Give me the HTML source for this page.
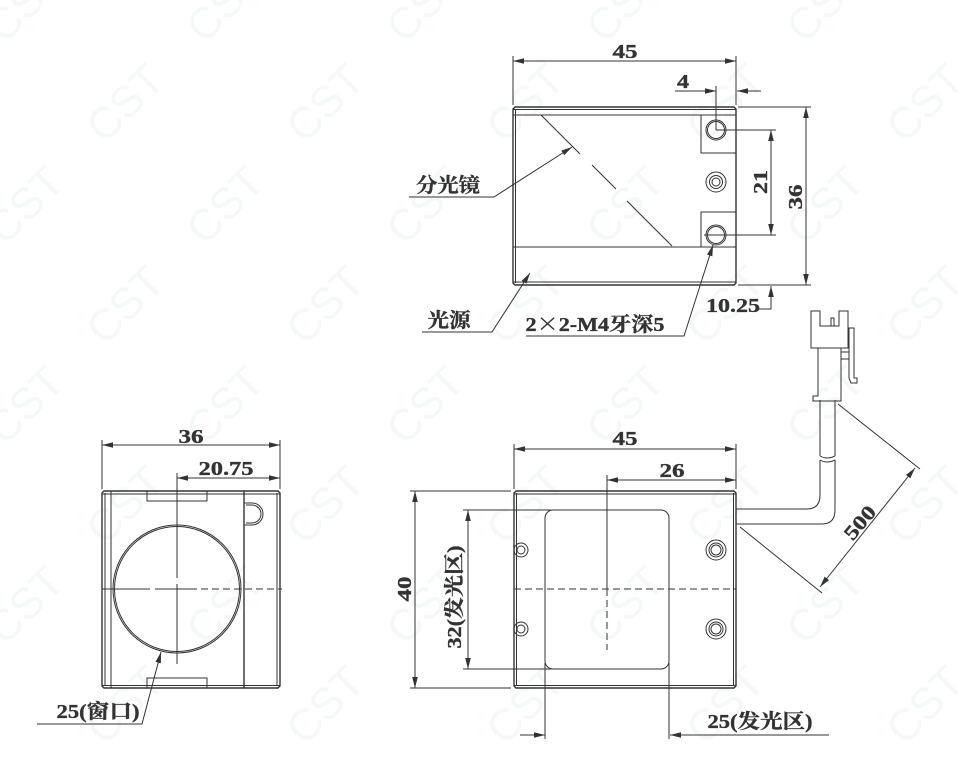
<!DOCTYPE html>
<html><head><meta charset="utf-8"><style>
html,body{margin:0;padding:0;background:#fff}
svg{display:block}
.w{font:400 44px "Liberation Sans",sans-serif;fill:#f5f8f9}
.t{font-family:"Liberation Serif","Noto Serif CJK SC",serif;font-weight:700;fill:#333;stroke:#333;stroke-width:.35;font-size:20px;text-anchor:middle}
.l{fill:none;stroke:#333;stroke-width:1}
.h{fill:none;stroke:#333;stroke-width:1.4}
.d{fill:none;stroke:#333;stroke-width:1;stroke-dasharray:7 4}
</style></head><body>
<svg xmlns="http://www.w3.org/2000/svg" width="958" height="766" viewBox="0 0 958 766">
<defs>
<marker id="a" markerUnits="userSpaceOnUse" markerWidth="12" markerHeight="8" refX="11" refY="4" orient="auto-start-reverse"><path d="M0 1.2L11 4L0 6.8z" fill="#333"/></marker>
</defs>
<rect width="958" height="766" fill="#fff"/>
<g class="w" text-anchor="middle">
<text transform="translate(125 103) rotate(-45)" y="15">CST</text><text transform="translate(325 103) rotate(-45)" y="15">CST</text><text transform="translate(525 103) rotate(-45)" y="15">CST</text><text transform="translate(725 103) rotate(-45)" y="15">CST</text><text transform="translate(925 103) rotate(-45)" y="15">CST</text>
<text transform="translate(25 3) rotate(-45)" y="15">CST</text><text transform="translate(225 3) rotate(-45)" y="15">CST</text><text transform="translate(425 3) rotate(-45)" y="15">CST</text><text transform="translate(625 3) rotate(-45)" y="15">CST</text><text transform="translate(825 3) rotate(-45)" y="15">CST</text>
<text transform="translate(25 205) rotate(-45)" y="15">CST</text><text transform="translate(225 205) rotate(-45)" y="15">CST</text><text transform="translate(425 205) rotate(-45)" y="15">CST</text><text transform="translate(625 205) rotate(-45)" y="15">CST</text><text transform="translate(825 205) rotate(-45)" y="15">CST</text>
<text transform="translate(125 305) rotate(-45)" y="15">CST</text><text transform="translate(325 305) rotate(-45)" y="15">CST</text><text transform="translate(525 305) rotate(-45)" y="15">CST</text><text transform="translate(725 305) rotate(-45)" y="15">CST</text><text transform="translate(925 305) rotate(-45)" y="15">CST</text>
<text transform="translate(25 405) rotate(-45)" y="15">CST</text><text transform="translate(225 405) rotate(-45)" y="15">CST</text><text transform="translate(425 405) rotate(-45)" y="15">CST</text><text transform="translate(625 405) rotate(-45)" y="15">CST</text><text transform="translate(825 405) rotate(-45)" y="15">CST</text>
<text transform="translate(125 505) rotate(-45)" y="15">CST</text><text transform="translate(325 505) rotate(-45)" y="15">CST</text><text transform="translate(525 505) rotate(-45)" y="15">CST</text><text transform="translate(725 505) rotate(-45)" y="15">CST</text><text transform="translate(925 505) rotate(-45)" y="15">CST</text>
<text transform="translate(25 605) rotate(-45)" y="15">CST</text><text transform="translate(225 605) rotate(-45)" y="15">CST</text><text transform="translate(425 605) rotate(-45)" y="15">CST</text><text transform="translate(625 605) rotate(-45)" y="15">CST</text><text transform="translate(825 605) rotate(-45)" y="15">CST</text>
<text transform="translate(125 705) rotate(-45)" y="15">CST</text><text transform="translate(325 705) rotate(-45)" y="15">CST</text><text transform="translate(525 705) rotate(-45)" y="15">CST</text><text transform="translate(725 705) rotate(-45)" y="15">CST</text><text transform="translate(925 705) rotate(-45)" y="15">CST</text>
</g>

<!-- top view -->
<g class="l">
<path class="h" d="M515 107H734L736 109V283L734 285H515L513 283V109Z"/>
<path d="M513 109.5H736M513 115H736M515.5 109V283M513 247H736M513 282H736"/>
<path d="M701 115V153H736M701 247V212H736"/>
<path d="M541 115L580 154M592 165L616 189M627 201L672 246"/>
<circle cx="716" cy="130" r="10"/><circle cx="716" cy="130" r="8.5"/>
<circle cx="716" cy="182" r="10"/><circle cx="716" cy="182" r="6.5"/><circle cx="716" cy="182" r="4"/>
<circle cx="716" cy="235" r="10"/><circle cx="716" cy="235" r="8.5"/>
<path d="M513 56V105M736 56V105"/>
<path d="M513 61H736" marker-start="url(#a)" marker-end="url(#a)"/>
<path d="M675 91H716" marker-end="url(#a)"/><path d="M761 91H737" marker-end="url(#a)"/>
<path d="M716 86V130M716 130H776M704 235H776"/>
<path d="M771 130V235" marker-start="url(#a)" marker-end="url(#a)"/>
<path d="M738 107H811M738 285H811"/>
<path d="M806 107V285" marker-start="url(#a)" marker-end="url(#a)"/>
<path d="M758 309H771V286" marker-end="url(#a)"/>
<path d="M409 197H494L572 147" marker-end="url(#a)"/>
<path d="M422 332H492L530 273" marker-end="url(#a)"/>
<path d="M526 336H684L713 245" marker-end="url(#a)"/>
</g>
<text class="t" x="625" y="58" textLength="25" lengthAdjust="spacingAndGlyphs">45</text>
<text class="t" x="683" y="88" textLength="12" lengthAdjust="spacingAndGlyphs">4</text>
<text class="t" transform="translate(767 182) rotate(-90)" textLength="24" lengthAdjust="spacingAndGlyphs">21</text>
<text class="t" transform="translate(802 197) rotate(-90)" textLength="25" lengthAdjust="spacingAndGlyphs">36</text>
<text class="t" x="733" y="312" textLength="54" lengthAdjust="spacingAndGlyphs">10.25</text>
<text class="t" x="448" y="192" textLength="64" lengthAdjust="spacingAndGlyphs">分光镜</text>
<text class="t" x="449" y="327" textLength="43" lengthAdjust="spacingAndGlyphs">光源</text>
<text class="t" x="595" y="331" textLength="139" lengthAdjust="spacingAndGlyphs">2<tspan font-family="Noto Serif CJK SC">×</tspan>2-M4牙深5</text>

<!-- bottom view -->
<g class="l">
<path class="h" d="M516 491H734L736 493V686L734 688H516L514 686V493Z"/>
<path d="M514 494H736M516.5 493V686M733.5 493V686M514 685.5H736"/>
<rect x="545" y="510" width="124" height="159" rx="8"/>
<circle cx="521" cy="550" r="7"/><circle cx="521" cy="550" r="4"/>
<circle cx="521" cy="629" r="7"/><circle cx="521" cy="629" r="4"/>
<circle cx="716" cy="550" r="10"/><circle cx="716" cy="550" r="7"/><circle cx="716" cy="550" r="5"/>
<circle cx="716" cy="629" r="10"/><circle cx="716" cy="629" r="7"/><circle cx="716" cy="629" r="5"/>
<path d="M514 444V489M736 444V489"/>
<path d="M514 449H736" marker-start="url(#a)" marker-end="url(#a)"/>
<path d="M607 480H736" marker-start="url(#a)" marker-end="url(#a)"/>
<path d="M607 475V589"/>
<path class="d" d="M607 589V650M514 589H736"/>
<path d="M410 491H511M410 688H511"/>
<path d="M415 491V688" marker-start="url(#a)" marker-end="url(#a)"/>
<path d="M463 510H551M463 669H551"/>
<path d="M468 510V669" marker-start="url(#a)" marker-end="url(#a)"/>
<path d="M545 663V739M669 663V739"/>
<path d="M520 735H545" marker-end="url(#a)"/>
<path d="M829 735H670" marker-end="url(#a)"/>
<path d="M736 509H807Q820 509 820 495V460"/>
<path d="M736 524H822Q835 524 835 510V460"/>
<path d="M820 460Q827 464 835 460M820 456Q827 460 835 456"/>
<path d="M820 400V456M835 400V456"/>
<path d="M811 311H820V326H839V311H848V348H811Z"/>
<path d="M831 326V318H834V326"/>
<path d="M818 348V396H813V401H841V348"/>
<path d="M841 352H849M841 359H849"/>
<path d="M849 328H854V378H857V383H851L849 378Z"/>
<path d="M838 404L920 469M740 527L822 593"/>
<path d="M915 468L820 587" marker-start="url(#a)" marker-end="url(#a)"/>
</g>
<text class="t" x="625" y="445" textLength="25" lengthAdjust="spacingAndGlyphs">45</text>
<text class="t" x="672" y="477" textLength="25" lengthAdjust="spacingAndGlyphs">26</text>
<text class="t" transform="translate(411 589) rotate(-90)" textLength="25" lengthAdjust="spacingAndGlyphs">40</text>
<text class="t" transform="translate(461 597) rotate(-90)" textLength="103" lengthAdjust="spacingAndGlyphs">32(发光区)</text>
<text class="t" x="760" y="728" textLength="105" lengthAdjust="spacingAndGlyphs">25(发光区)</text>
<text class="t" transform="translate(865 527) rotate(-50)" textLength="38" lengthAdjust="spacingAndGlyphs">500</text>

<!-- left view -->
<g class="l">
<path class="h" d="M104 491H278L280 493V686L278 688H104L102 686V493Z"/>
<path d="M102 494H280M102 685.5H280M105 493V686M111 491V688M277 493V686"/>
<path class="h" d="M244 491V688"/>
<path d="M147 491V501H207V491M147 688V678H207V688"/>
<circle cx="177" cy="589" r="64"/><circle cx="177" cy="589" r="62.5"/>
<path d="M244 503H252A11 11 0 0 1 252 525H244"/>
<path d="M246 505H252A9 9 0 0 1 252 523H246"/>
<path d="M177 473V578M177 584V664"/>
<path d="M102 589H150M155 589H190" />
<path class="d" d="M190 589H282"/>
<path d="M102 440V489M280 440V489"/>
<path d="M102 445H280" marker-start="url(#a)" marker-end="url(#a)"/>
<path d="M177 478H280" marker-start="url(#a)" marker-end="url(#a)"/>
<path d="M37 724H142L161 652" marker-end="url(#a)"/>
</g>
<text class="t" x="191" y="443" textLength="25" lengthAdjust="spacingAndGlyphs">36</text>
<text class="t" x="226" y="475" textLength="55" lengthAdjust="spacingAndGlyphs">20.75</text>
<text class="t" x="98" y="718" textLength="83" lengthAdjust="spacingAndGlyphs">25(窗口)</text>
</svg>
</body></html>
